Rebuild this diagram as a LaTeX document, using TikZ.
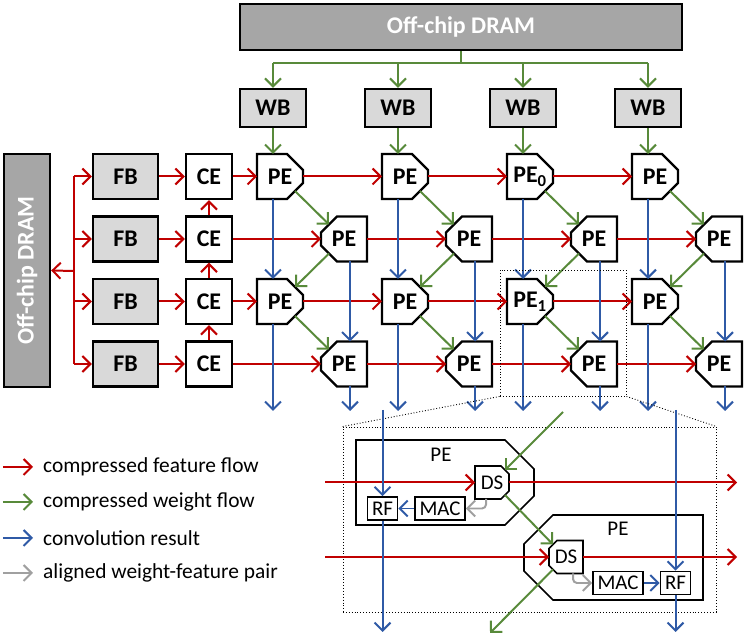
\documentclass[tikz,border=0pt]{standalone}
\usepackage{xcolor}
\usepackage{fontspec}
\setmainfont{Carlito}
\usepackage{tikz}
\usetikzlibrary{positioning,arrows.meta,calc}
\definecolor{AccRed}{HTML}{C00000}
\definecolor{AccGreen}{HTML}{588A3A}
\definecolor{AccBlue}{HTML}{2F5AA6}
\definecolor{AccGrey}{HTML}{A0A0A0}
\definecolor{AccMem}{HTML}{A6A6A6}
\definecolor{AccBuf}{HTML}{D9D9D9}

\begin{document}
\begin{tikzpicture}[x=1bp,y=1bp]
  \tikzset{
    accbox/.style={
      draw=black,
      line width=2.4pt,
      fill=white,
      inner sep=0pt,
      minimum width=46bp,
      minimum height=45bp,
      font=\fontsize{24}{27}\selectfont\bfseries
    },
    accmem/.style={accbox,fill=AccMem,text=white},
    accbuf/.style={accbox,fill=AccBuf},
    % outline with the two right (or left) corners cut off
    cutright/.style n args={2}{
      draw=none,fill=none,outer sep=0pt,
      append after command={\pgfextra{\draw[line width=#2]
        (\tikzlastnode.north west) -- ([xshift=-#1]\tikzlastnode.north east)
        -- ([yshift=-#1]\tikzlastnode.north east) -- ([yshift=#1]\tikzlastnode.south east)
        -- ([xshift=-#1]\tikzlastnode.south east) -- (\tikzlastnode.south west) -- cycle;}}
    },
    cutleft/.style n args={2}{
      draw=none,fill=none,outer sep=0pt,
      append after command={\pgfextra{\draw[line width=#2]
        (\tikzlastnode.north east) -- ([xshift=#1]\tikzlastnode.north west)
        -- ([yshift=-#1]\tikzlastnode.north west) -- ([yshift=#1]\tikzlastnode.south west)
        -- ([xshift=#1]\tikzlastnode.south west) -- (\tikzlastnode.south east) -- cycle;}}
    },
    accpeR/.style={accbox,cutright={16bp}{2.4pt}},
    accpeL/.style={accbox,cutleft={16bp}{2.4pt}},
    accdpe/.style={inner sep=0pt,minimum width=178bp,minimum height=85bp},
    accds/.style={
      inner sep=0pt,
      minimum width=34bp,
      minimum height=33bp,
      font=\fontsize{21}{24}\selectfont
    },
    accunit/.style={
      draw=black,
      line width=1.6pt,
      fill=white,
      inner sep=0pt,
      minimum height=23bp,
      font=\fontsize{21}{24}\selectfont
    },
    acctext/.style={font=\fontsize{21}{24}\selectfont,inner sep=0pt},
    acclegend/.style={font=\fontsize{21.5}{24}\selectfont,anchor=west,inner sep=3bp},
    acczoom/.style={draw=black,line width=0.9pt,dotted,inner sep=0pt},
    accline/.style={line width=2pt},
    accarrow/.style={accline,-{Straight Barb[length=8bp,width=16bp]}},
    accfeat/.style={accarrow,draw=AccRed},
    accweight/.style={accarrow,draw=AccGreen},
    accres/.style={accarrow,draw=AccBlue},
    accpair/.style={accarrow,draw=AccGrey,rounded corners=4bp}
  }
  \useasboundingbox (0,0) rectangle (747,635);

  % ------------------------------------------------------------------
  % Memories and buffers
  % ------------------------------------------------------------------
  \node[accmem,minimum width=442bp,minimum height=46bp] (dramT) at (461,608) {Off-chip DRAM};
  \node[accmem,minimum width=233bp,minimum height=46bp,rotate=90] (dramL) at (27,364.5) {Off-chip DRAM};

  \node[accbuf,minimum width=66bp,minimum height=38bp] (wb0) at (273,527) {WB};
  \node[accbuf,minimum width=66bp,minimum height=38bp] (wb1) at (398,527) {WB};
  \node[accbuf,minimum width=66bp,minimum height=38bp] (wb2) at (523,527) {WB};
  \node[accbuf,minimum width=66bp,minimum height=38bp] (wb3) at (648,527) {WB};

  \node[accbuf,minimum width=65bp] (fb1) at (125.5,458.5) {FB};
  \node[accbuf,minimum width=65bp] (fb2) at (125.5,396) {FB};
  \node[accbuf,minimum width=65bp] (fb3) at (125.5,333.5) {FB};
  \node[accbuf,minimum width=65bp] (fb4) at (125.5,271) {FB};

  \node[accbox] (ce1) at (209,458.5) {CE};
  \node[accbox] (ce2) at (209,396) {CE};
  \node[accbox] (ce3) at (209,333.5) {CE};
  \node[accbox] (ce4) at (209,271) {CE};

  % ------------------------------------------------------------------
  % PE array
  % ------------------------------------------------------------------
  \node[accpeR] (p10) at (280,458.5) {PE};
  \node[accpeR] (p11) at (405,458.5) {PE};
  \node[accpeR] (p12) at (530,458.5) {PE\textsubscript{0}};
  \node[accpeR] (p13) at (655,458.5) {PE};

  \node[accpeL] (p20) at (344,396) {PE};
  \node[accpeL] (p21) at (469,396) {PE};
  \node[accpeL] (p22) at (594,396) {PE};
  \node[accpeL] (p23) at (719,396) {PE};

  \node[accpeR] (p30) at (280,333.5) {PE};
  \node[accpeR] (p31) at (405,333.5) {PE};
  \node[accpeR] (p32) at (530,333.5) {PE\textsubscript{1}};
  \node[accpeR] (p33) at (655,333.5) {PE};

  \node[accpeL] (p40) at (344,271) {PE};
  \node[accpeL] (p41) at (469,271) {PE};
  \node[accpeL] (p42) at (594,271) {PE};
  \node[accpeL] (p43) at (719,271) {PE};

  % feature flow
  \coordinate (ftrunk) at (74,364);
  \draw[accline,AccRed] (ftrunk |- fb1) -- (ftrunk |- fb4);
  \draw[accfeat] (ftrunk) -- (dramL.south);
  \draw[accfeat] (ftrunk |- fb1) -- (fb1.west);
  \draw[accfeat] (ftrunk |- fb2) -- (fb2.west);
  \draw[accfeat] (ftrunk |- fb3) -- (fb3.west);
  \draw[accfeat] (ftrunk |- fb4) -- (fb4.west);
  \draw[accfeat] (fb1.east) -- (ce1.west);
  \draw[accfeat] (fb2.east) -- (ce2.west);
  \draw[accfeat] (fb3.east) -- (ce3.west);
  \draw[accfeat] (fb4.east) -- (ce4.west);
  \draw[accfeat] (ce4.north) -- (ce3.south);
  \draw[accfeat] (ce3.north) -- (ce2.south);
  \draw[accfeat] (ce2.north) -- (ce1.south);
  \draw[accfeat] (ce1.east) -- (p10.west);
  \draw[accfeat] (ce2.east) -- (p20.west);
  \draw[accfeat] (ce3.east) -- (p30.west);
  \draw[accfeat] (ce4.east) -- (p40.west);
  \draw[accfeat] (p10.east) -- (p11.west);
  \draw[accfeat] (p11.east) -- (p12.west);
  \draw[accfeat] (p12.east) -- (p13.west);
  \draw[accfeat] (p20.east) -- (p21.west);
  \draw[accfeat] (p21.east) -- (p22.west);
  \draw[accfeat] (p22.east) -- (p23.west);
  \draw[accfeat] (p30.east) -- (p31.west);
  \draw[accfeat] (p31.east) -- (p32.west);
  \draw[accfeat] (p32.east) -- (p33.west);
  \draw[accfeat] (p40.east) -- (p41.west);
  \draw[accfeat] (p41.east) -- (p42.west);
  \draw[accfeat] (p42.east) -- (p43.west);

  % weight flow (diagonals run between the cut corners)
  \coordinate (wbus) at (461,572);
  \draw[accline,AccGreen] (dramT.south) -- (wbus);
  \draw[accline,AccGreen] (wbus -| wb0) -- (wbus -| wb3);
  \draw[accweight] (wbus -| wb0) -- (wb0.north);
  \draw[accweight] (wbus -| wb1) -- (wb1.north);
  \draw[accweight] (wbus -| wb2) -- (wb2.north);
  \draw[accweight] (wbus -| wb3) -- (wb3.north);
  \draw[accweight] (wb0.south) -- (wb0.south |- p10.north);
  \draw[accweight] (wb1.south) -- (wb1.south |- p11.north);
  \draw[accweight] (wb2.south) -- (wb2.south |- p12.north);
  \draw[accweight] (wb3.south) -- (wb3.south |- p13.north);
  \draw[accweight] ([shift={(-8bp,8bp)}]p10.south east) -- ([shift={(8bp,-8bp)}]p20.north west);
  \draw[accweight] ([shift={(-8bp,8bp)}]p11.south east) -- ([shift={(8bp,-8bp)}]p21.north west);
  \draw[accweight] ([shift={(-8bp,8bp)}]p12.south east) -- ([shift={(8bp,-8bp)}]p22.north west);
  \draw[accweight] ([shift={(-8bp,8bp)}]p13.south east) -- ([shift={(8bp,-8bp)}]p23.north west);
  \draw[accweight] ([shift={(8bp,8bp)}]p20.south west) -- ([shift={(-8bp,-8bp)}]p30.north east);
  \draw[accweight] ([shift={(8bp,8bp)}]p21.south west) -- ([shift={(-8bp,-8bp)}]p31.north east);
  \draw[accweight] ([shift={(8bp,8bp)}]p22.south west) -- ([shift={(-8bp,-8bp)}]p32.north east);
  \draw[accweight] ([shift={(8bp,8bp)}]p23.south west) -- ([shift={(-8bp,-8bp)}]p33.north east);
  \draw[accweight] ([shift={(-8bp,8bp)}]p30.south east) -- ([shift={(8bp,-8bp)}]p40.north west);
  \draw[accweight] ([shift={(-8bp,8bp)}]p31.south east) -- ([shift={(8bp,-8bp)}]p41.north west);
  \draw[accweight] ([shift={(-8bp,8bp)}]p32.south east) -- ([shift={(8bp,-8bp)}]p42.north west);
  \draw[accweight] ([shift={(-8bp,8bp)}]p33.south east) -- ([shift={(8bp,-8bp)}]p43.north west);

  % convolution results
  \coordinate (psum) at (0,224);
  \draw[accres] ([xshift=-7bp]p10.south) -- ([xshift=-7bp]p30.north);
  \draw[accres] ([xshift=-7bp]p11.south) -- ([xshift=-7bp]p31.north);
  \draw[accres] ([xshift=-7bp]p12.south) -- ([xshift=-7bp]p32.north);
  \draw[accres] ([xshift=-7bp]p13.south) -- ([xshift=-7bp]p33.north);
  \draw[accres] ([xshift=6bp]p20.south) -- ([xshift=6bp]p40.north);
  \draw[accres] ([xshift=6bp]p21.south) -- ([xshift=6bp]p41.north);
  \draw[accres] ([xshift=6bp]p22.south) -- ([xshift=6bp]p42.north);
  \draw[accres] ([xshift=6bp]p23.south) -- ([xshift=6bp]p43.north);
  \draw[accres] ([xshift=-7bp]p30.south) -- ([xshift=-7bp]p30.south |- psum);
  \draw[accres] ([xshift=-7bp]p31.south) -- ([xshift=-7bp]p31.south |- psum);
  \draw[accres] ([xshift=-7bp]p32.south) -- ([xshift=-7bp]p32.south |- psum);
  \draw[accres] ([xshift=-7bp]p33.south) -- ([xshift=-7bp]p33.south |- psum);
  \draw[accres] ([xshift=6bp]p40.south) -- ([xshift=6bp]p40.south |- psum);
  \draw[accres] ([xshift=6bp]p41.south) -- ([xshift=6bp]p41.south |- psum);
  \draw[accres] ([xshift=6bp]p42.south) -- ([xshift=6bp]p42.south |- psum);
  \draw[accres] ([xshift=6bp]p43.south) -- ([xshift=6bp]p43.south |- psum);

  % ------------------------------------------------------------------
  % Zoomed-in pair of PEs
  % ------------------------------------------------------------------
  \node[acczoom,minimum width=126bp,minimum height=126bp] (zsrc) at (563,302) {};
  \node[acczoom,minimum width=373bp,minimum height=185bp] (zdst) at (529.5,115.5) {};
  \draw[line width=0.9pt,dotted] (zsrc.south west) -- (zdst.north west);
  \draw[line width=0.9pt,dotted] (zsrc.south east) -- (zdst.north east);

  \node[accdpe,cutright={29bp}{1.6pt}] (dpeA) at (445,152.5) {};
  \node[acctext] (dpeAlbl) at (441,180) {PE};
  \node[accds,cutright={8bp}{1.6pt}] (dsA) at (492,152.5) {DS};
  \node[accunit,minimum width=30bp] (rfA) at (382.5,126.5) {RF};
  \node[accunit,minimum width=50bp] (macA) at (440,126.5) {MAC};

  \node[accdpe,minimum width=179bp,cutleft={29bp}{1.6pt}] (dpeB) at (613.5,77.5) {};
  \node[acctext] (dpeBlbl) at (618,106) {PE};
  \node[accds,cutleft={8bp}{1.6pt}] (dsB) at (566,78) {DS};
  \node[accunit,minimum width=50bp] (macB) at (618,52) {MAC};
  \node[accunit,minimum width=30bp] (rfB) at (675.5,52) {RF};

  \coordinate (fA0) at (325,152.5);
  \coordinate (fA1) at (737,152.5);
  \coordinate (fB0) at (325,78);
  \coordinate (fB1) at (737,78);
  \coordinate (rA0) at (382.5,225);
  \coordinate (rA1) at (382.5,3);
  \coordinate (rB0) at (675.5,225);
  \coordinate (rB1) at (675.5,3);
  \coordinate (wA0) at (563,223);
  \coordinate (wB1) at (490,2);

  \draw[accfeat] (fA0) -- (dsA.west);
  \draw[accfeat] (dsA.east) -- (fA1);
  \draw[accfeat] (fB0) -- (dsB.west);
  \draw[accfeat] (dsB.east) -- (fB1);
  \draw[accres] (rA0) -- (rfA.north);
  \draw[accres] (rfA.south) -- (rA1);
  \draw[accres] (rB0) -- (rfB.north);
  \draw[accres] (rfB.south) -- (rB1);
  \draw[accres] (macA.west) -- (rfA.east);
  \draw[accres] (macB.east) -- (rfB.west);
  \draw[accweight] (wA0) -- ([shift={(-4bp,-4bp)}]dsA.north east);
  \draw[accweight] ([shift={(-4bp,4bp)}]dsA.south east) -- ([shift={(4bp,-4bp)}]dsB.north west);
  \draw[accweight] ([shift={(4bp,4bp)}]dsB.south west) -- (wB1);
  \draw[accpair] ([xshift=-6bp]dsA.south) |- (macA.east);
  \draw[accpair] ([xshift=7bp]dsB.south) |- (macB.west);

  % Legend.
  \node[acclegend] (lgFeat) at (40,168) {compressed feature flow};
  \node[acclegend] (lgWeight) at (40,133) {compressed weight flow};
  \node[acclegend] (lgRes) at (40,97) {convolution result};
  \node[acclegend] (lgPair) at (40,62) {aligned weight-feature pair};
  \draw[accfeat] ([xshift=-37bp]lgFeat.west) -- ([xshift=-7bp]lgFeat.west);
  \draw[accweight] ([xshift=-37bp]lgWeight.west) -- ([xshift=-7bp]lgWeight.west);
  \draw[accres] ([xshift=-37bp]lgRes.west) -- ([xshift=-7bp]lgRes.west);
  \draw[accarrow,draw=AccGrey] ([xshift=-37bp]lgPair.west) -- ([xshift=-7bp]lgPair.west);
\end{tikzpicture}
\end{document}
